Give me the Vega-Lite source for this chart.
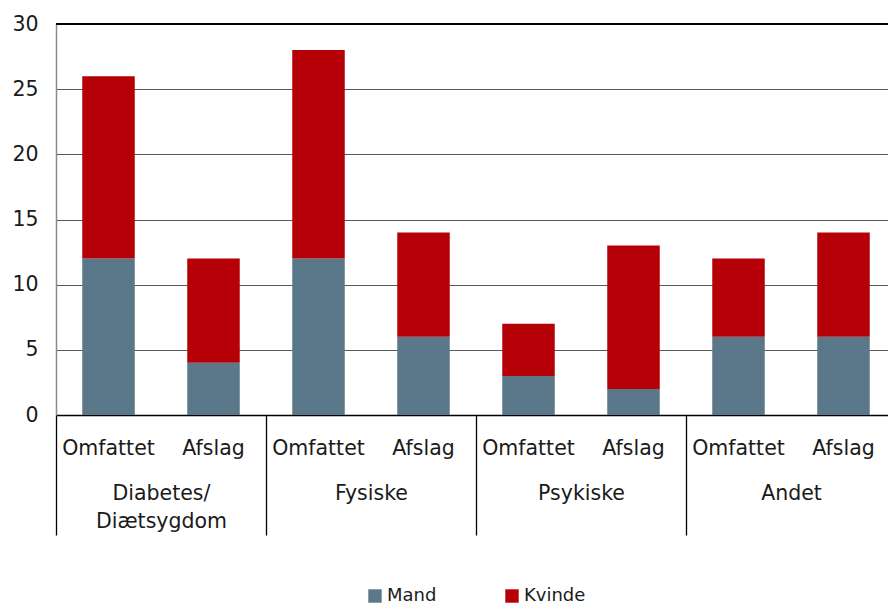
{
  "$schema": "https://vega.github.io/schema/vega-lite/v6.json",
  "width": 840,
  "height": 391,
  "autosize": {"type": "none"},
  "padding": {"left": 56, "top": 24, "right": 0, "bottom": 190},
  "background": "white",
  "config": {
    "font": "DejaVu Sans",
    "view": {"stroke": null},
    "legend": {"layout": {"bottom": {"anchor": "middle"}}}
  },
  "data": {
    "values": [
      {"group": "Diabetes/Diætsygdom", "type": "Omfattet", "key": "Diabetes/Diætsygdom|Omfattet", "sex": "Mand", "value": 12},
      {"group": "Diabetes/Diætsygdom", "type": "Omfattet", "key": "Diabetes/Diætsygdom|Omfattet", "sex": "Kvinde", "value": 14},
      {"group": "Diabetes/Diætsygdom", "type": "Afslag", "key": "Diabetes/Diætsygdom|Afslag", "sex": "Mand", "value": 4},
      {"group": "Diabetes/Diætsygdom", "type": "Afslag", "key": "Diabetes/Diætsygdom|Afslag", "sex": "Kvinde", "value": 8},
      {"group": "Fysiske", "type": "Omfattet", "key": "Fysiske|Omfattet", "sex": "Mand", "value": 12},
      {"group": "Fysiske", "type": "Omfattet", "key": "Fysiske|Omfattet", "sex": "Kvinde", "value": 16},
      {"group": "Fysiske", "type": "Afslag", "key": "Fysiske|Afslag", "sex": "Mand", "value": 6},
      {"group": "Fysiske", "type": "Afslag", "key": "Fysiske|Afslag", "sex": "Kvinde", "value": 8},
      {"group": "Psykiske", "type": "Omfattet", "key": "Psykiske|Omfattet", "sex": "Mand", "value": 3},
      {"group": "Psykiske", "type": "Omfattet", "key": "Psykiske|Omfattet", "sex": "Kvinde", "value": 4},
      {"group": "Psykiske", "type": "Afslag", "key": "Psykiske|Afslag", "sex": "Mand", "value": 2},
      {"group": "Psykiske", "type": "Afslag", "key": "Psykiske|Afslag", "sex": "Kvinde", "value": 11},
      {"group": "Andet", "type": "Omfattet", "key": "Andet|Omfattet", "sex": "Mand", "value": 6},
      {"group": "Andet", "type": "Omfattet", "key": "Andet|Omfattet", "sex": "Kvinde", "value": 6},
      {"group": "Andet", "type": "Afslag", "key": "Andet|Afslag", "sex": "Mand", "value": 6},
      {"group": "Andet", "type": "Afslag", "key": "Andet|Afslag", "sex": "Kvinde", "value": 8}
    ]
  },
  "layer": [
    {
      "mark": {"type": "bar", "width": {"band": 0.5}},
      "encoding": {
        "x": {
          "field": "key", "type": "nominal", "sort": null,
          "scale": {"paddingInner": 0, "paddingOuter": 0},
          "axis": {
            "title": null, "orient": "bottom",
            "labelExpr": "split(datum.label, '|')[1]",
            "labelAngle": 0, "ticks": false,
            "domainColor": "#000000", "domainWidth": 1.3,
            "labelFontSize": 20.5, "labelColor": "#1a1a1a",
            "labelPadding": 23, "labelBaseline": "top"
          }
        },
        "y": {
          "field": "value", "type": "quantitative", "aggregate": "sum",
          "stack": "zero",
          "scale": {"domain": [0, 30]},
          "axis": {
            "title": null, "values": [0, 5, 10, 15, 20, 25, 30],
            "grid": true, "gridColor": "#5a5a5a", "gridWidth": 1.2,
            "ticks": false, "domainColor": "#8c8c8c", "domainWidth": 1.5,
            "labelFontSize": 20.5, "labelColor": "#1a1a1a", "labelPadding": 18
          }
        },
        "color": {
          "field": "sex", "type": "nominal",
          "scale": {"domain": ["Mand", "Kvinde"], "range": ["#5a7889", "#b50008"]},
          "legend": {
            "title": null, "orient": "bottom", "direction": "horizontal",
            "symbolType": "square", "symbolSize": 180, "symbolStrokeWidth": 0,
            "labelFontSize": 18, "labelColor": "#1a1a1a", "labelOffset": 3,
            "columnPadding": 66, "offset": 51
          }
        },
        "order": {"field": "sex", "sort": "descending"}
      }
    },
    {
      "mark": {"type": "point", "opacity": 0},
      "encoding": {
        "x": {
          "field": "group", "type": "nominal", "sort": null,
          "scale": {"paddingInner": 0, "paddingOuter": 0},
          "axis": {
            "title": null, "orient": "bottom", "domain": false,
            "tickBand": "extent", "tickSize": 120, "tickColor": "#000000", "tickWidth": 1.3,
            "labelAngle": 0, "labelFontSize": 20.5, "labelColor": "#1a1a1a",
            "labelPadding": -52, "labelBaseline": "top", "labelLineHeight": 28,
            "labelExpr": "datum.label == 'Diabetes/Diætsygdom' ? ['Diabetes/', 'Diætsygdom'] : datum.label"
          }
        },
        "y": {"datum": 0}
      }
    },
    {
      "mark": {"type": "rule", "color": "#000000", "strokeWidth": 1.3},
      "encoding": {"y": {"datum": 30}}
    }
  ],
  "resolve": {"scale": {"x": "independent"}, "axis": {"x": "independent"}}
}
